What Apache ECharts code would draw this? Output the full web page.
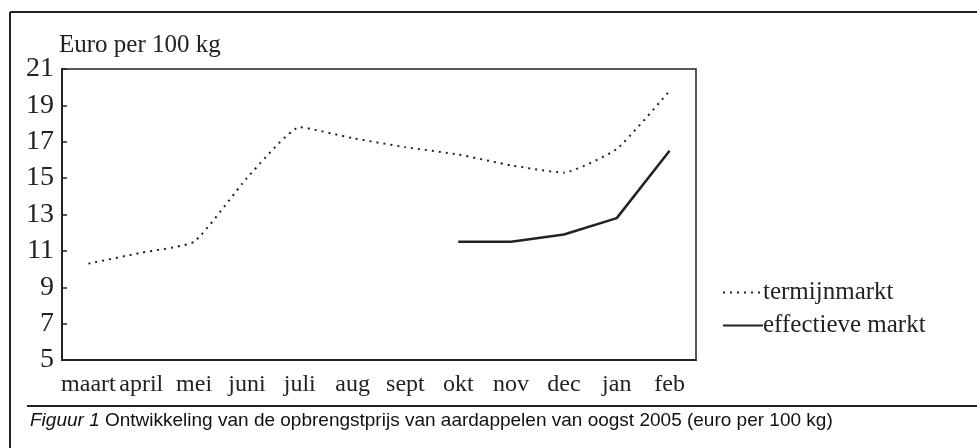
<!DOCTYPE html>
<html>
<head>
<meta charset="utf-8">
<script src="https://cdn.jsdelivr.net/npm/echarts@6/dist/echarts.min.js"></script>
<style>
  html, body { margin: 0; padding: 0; background: #fff; }
  #chart { width: 977px; height: 448px; }
</style>
</head>
<body>
<div id="chart"></div>
<script>
// maanden (categorieën)
var maanden = ['maart', 'april', 'mei', 'juni', 'juli', 'aug', 'sept', 'okt', 'nov', 'dec', 'jan', 'feb'];
// termijnmarkt, euro per 100 kg
var termijnmarkt = [10.3, 10.9, 11.5, 15.0, 17.8, 17.2, 16.7, 16.3, 15.7, 15.3, 16.6, 19.8];
// effectieve markt (pas vanaf okt)
var effectieveMarkt = [null, null, null, null, null, null, null, 11.5, 11.5, 11.9, 12.8, 16.5];
// y-as
var yMin = 5, yMax = 21, yStap = 2;

var serif = 'Liberation Serif';
var lijnKleur = '#222';

var chart = echarts.init(document.getElementById('chart'));
chart.setOption({
  animation: false,
  backgroundColor: '#fff',
  grid: {
    left: 62, right: 281, top: 69, bottom: 88,
    show: true,
    borderColor: lijnKleur,
    borderWidth: 1.5,
    backgroundColor: 'transparent'
  },
  legend: {
    orient: 'vertical',
    left: 717,
    top: 275,
    itemWidth: 40,
    itemHeight: 14,
    itemGap: 8,
    itemStyle: { opacity: 0 },
    textStyle: { fontFamily: serif, fontSize: 25, color: '#222', padding: [0, 0, 0, -5] },
    data: ['termijnmarkt', 'effectieve markt']
  },
  xAxis: {
    type: 'category',
    data: maanden,
    boundaryGap: true,
    axisLine: { lineStyle: { color: lijnKleur, width: 2 } },
    axisTick: { inside: true, length: 5, alignWithLabel: false, interval: 0, lineStyle: { color: lijnKleur, width: 1.5 } },
    axisLabel: { fontFamily: serif, fontSize: 24, color: '#222', margin: 13, interval: 0 },
    splitLine: { show: false }
  },
  yAxis: {
    type: 'value',
    min: yMin, max: yMax, interval: yStap,
    axisLine: { show: true, lineStyle: { color: lijnKleur, width: 2 } },
    axisTick: { show: true, inside: true, length: 5, lineStyle: { color: lijnKleur, width: 1.5 } },
    axisLabel: { fontFamily: serif, fontSize: 28, color: '#222', margin: 8 },
    splitLine: { show: false }
  },
  series: [
    {
      name: 'termijnmarkt',
      type: 'line',
      data: termijnmarkt,
      symbol: 'none',
      smooth: 0.15,
      lineStyle: { color: lijnKleur, width: 2, type: [2, 5] },
      itemStyle: { color: lijnKleur }
    },
    {
      name: 'effectieve markt',
      type: 'line',
      data: effectieveMarkt,
      symbol: 'none',
      lineStyle: { color: lijnKleur, width: 2.5, type: 'solid' },
      itemStyle: { color: lijnKleur }
    }
  ],
  graphic: [
    // kader van de figuur
    { type: 'line', shape: { x1: 10, y1: 12, x2: 977, y2: 12 }, style: { stroke: lijnKleur, lineWidth: 2 } },
    { type: 'line', shape: { x1: 10, y1: 12, x2: 10, y2: 448 }, style: { stroke: lijnKleur, lineWidth: 2 } },
    { type: 'line', shape: { x1: 27, y1: 406, x2: 977, y2: 406 }, style: { stroke: lijnKleur, lineWidth: 2 } },
    // eenheid boven de y-as
    {
      type: 'text', left: 59, top: 33,
      style: { text: 'Euro per 100 kg', font: '25px "Liberation Serif"', fill: '#222' }
    },
    // onderschrift
    {
      type: 'text', left: 30, top: 411,
      style: {
        text: '{i|Figuur 1} Ontwikkeling van de opbrengstprijs van aardappelen van oogst 2005 (euro per 100 kg)',
        font: '19px "Liberation Sans"',
        fill: '#111',
        rich: { i: { fontStyle: 'italic', fontFamily: 'Liberation Sans', fontSize: 19 } }
      }
    }
  ]
});
</script>
</body>
</html>
